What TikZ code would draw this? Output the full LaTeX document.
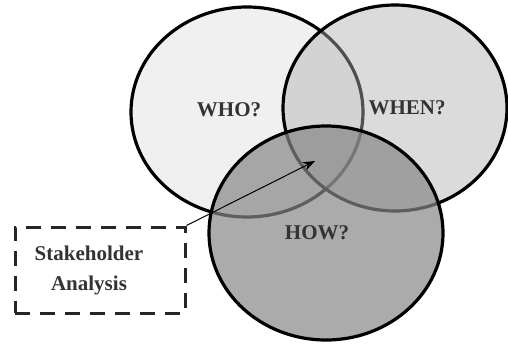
\documentclass[tikz,border=0pt]{standalone}
\usepackage{fontspec}
\setmainfont{Liberation Serif}
\usetikzlibrary{shapes.geometric,arrows.meta}

\tikzset{
  setbox/.style={draw=black, line width=1.6pt, ellipse, inner sep=0pt, fill opacity=#1},
  setlabel/.style={font=\bfseries\fontsize{10.5}{12}\selectfont, text=black!80},
  notebox/.style={draw=black!85, line width=1.5pt, dash pattern=on 7.5pt off 5pt,
    minimum width=85pt, minimum height=43pt, inner sep=0pt}
}

\begin{document}
\begin{tikzpicture}[x=0.5pt, y=-0.5pt]
    \useasboundingbox (0,0) rectangle (508,343);

    % 三个集合
    \node[setbox=1, fill=black!6, minimum width=232pt*0.5, minimum height=210pt*0.5] (who) at (247,112) {};
    \node[setbox=0.45, fill=black!31, minimum width=224pt*0.5, minimum height=206pt*0.5] (when) at (395,108) {};
    \node[setbox=0.7, fill=black!47, minimum width=234pt*0.5, minimum height=214pt*0.5] (how) at (326,233) {};

    % 集合标签
    \node[setlabel] (wholabel) at (229,110) {WHO?};
    \node[setlabel] (whenlabel) at (407,108) {WHEN?};
    \node[setlabel] (howlabel) at (317,233) {HOW?};

    % 说明框
    \node[notebox] (note) at (100,270) {};
    \node[setlabel, align=center, font=\bfseries\fontsize{10.5}{15}\selectfont] (notetext) at (89,270) {Stakeholder\\Analysis};

    % 指向交集
    \coordinate (core) at (315,161);
    \draw[line width=0.5pt, -{Stealth[length=6pt, width=4.5pt]}] (note.north east) -- (core);
\end{tikzpicture}
\end{document}
